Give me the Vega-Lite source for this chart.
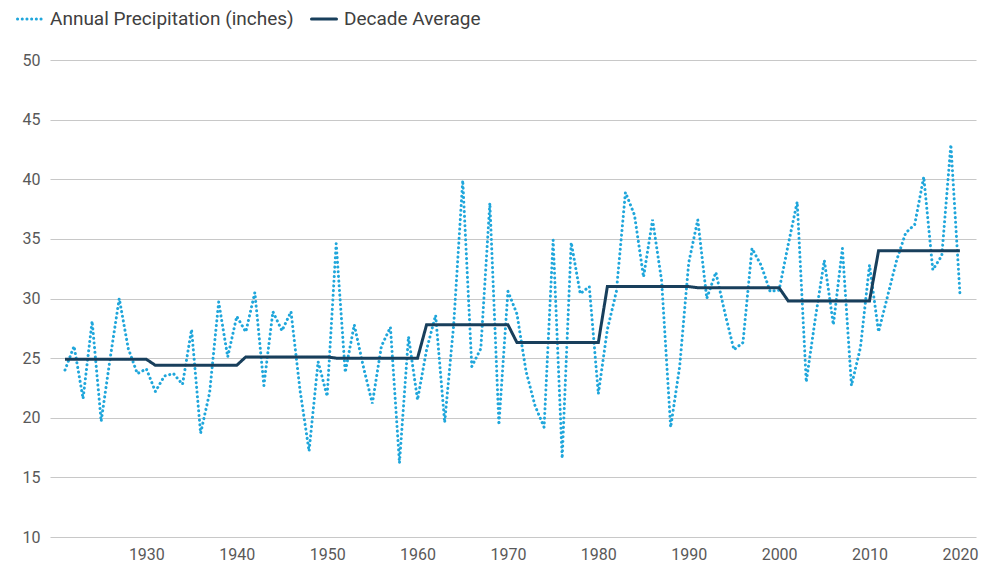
{
  "$schema": "https://vega.github.io/schema/vega-lite/v6.json",
  "width": 926,
  "height": 477,
  "autosize": {"type": "none"},
  "padding": {"left": 50, "top": 60, "right": 22, "bottom": 29},
  "background": "white",
  "config": {
    "font": "Roboto",
    "view": {"stroke": null}
  },
  "data": {
    "values": [
      {"year": 1921, "annual": 24.0, "decade": 24.9},
      {"year": 1922, "annual": 26.0, "decade": 24.9},
      {"year": 1923, "annual": 21.6, "decade": 24.9},
      {"year": 1924, "annual": 28.1, "decade": 24.9},
      {"year": 1925, "annual": 19.7, "decade": 24.9},
      {"year": 1926, "annual": 25.0, "decade": 24.9},
      {"year": 1927, "annual": 30.0, "decade": 24.9},
      {"year": 1928, "annual": 25.8, "decade": 24.9},
      {"year": 1929, "annual": 23.7, "decade": 24.9},
      {"year": 1930, "annual": 24.1, "decade": 24.9},
      {"year": 1931, "annual": 22.2, "decade": 24.4},
      {"year": 1932, "annual": 23.5, "decade": 24.4},
      {"year": 1933, "annual": 23.7, "decade": 24.4},
      {"year": 1934, "annual": 22.8, "decade": 24.4},
      {"year": 1935, "annual": 27.4, "decade": 24.4},
      {"year": 1936, "annual": 18.7, "decade": 24.4},
      {"year": 1937, "annual": 22.1, "decade": 24.4},
      {"year": 1938, "annual": 29.7, "decade": 24.4},
      {"year": 1939, "annual": 25.1, "decade": 24.4},
      {"year": 1940, "annual": 28.5, "decade": 24.4},
      {"year": 1941, "annual": 27.2, "decade": 25.1},
      {"year": 1942, "annual": 30.5, "decade": 25.1},
      {"year": 1943, "annual": 22.7, "decade": 25.1},
      {"year": 1944, "annual": 28.9, "decade": 25.1},
      {"year": 1945, "annual": 27.3, "decade": 25.1},
      {"year": 1946, "annual": 28.9, "decade": 25.1},
      {"year": 1947, "annual": 22.3, "decade": 25.1},
      {"year": 1948, "annual": 17.2, "decade": 25.1},
      {"year": 1949, "annual": 24.7, "decade": 25.1},
      {"year": 1950, "annual": 21.8, "decade": 25.1},
      {"year": 1951, "annual": 34.6, "decade": 25.0},
      {"year": 1952, "annual": 23.8, "decade": 25.0},
      {"year": 1953, "annual": 27.8, "decade": 25.0},
      {"year": 1954, "annual": 24.3, "decade": 25.0},
      {"year": 1955, "annual": 21.2, "decade": 25.0},
      {"year": 1956, "annual": 26.0, "decade": 25.0},
      {"year": 1957, "annual": 27.6, "decade": 25.0},
      {"year": 1958, "annual": 16.2, "decade": 25.0},
      {"year": 1959, "annual": 26.8, "decade": 25.0},
      {"year": 1960, "annual": 21.5, "decade": 25.0},
      {"year": 1961, "annual": 25.7, "decade": 27.8},
      {"year": 1962, "annual": 28.6, "decade": 27.8},
      {"year": 1963, "annual": 19.6, "decade": 27.8},
      {"year": 1964, "annual": 27.8, "decade": 27.8},
      {"year": 1965, "annual": 39.9, "decade": 27.8},
      {"year": 1966, "annual": 24.3, "decade": 27.8},
      {"year": 1967, "annual": 25.8, "decade": 27.8},
      {"year": 1968, "annual": 38.0, "decade": 27.8},
      {"year": 1969, "annual": 19.4, "decade": 27.8},
      {"year": 1970, "annual": 30.6, "decade": 27.8},
      {"year": 1971, "annual": 28.7, "decade": 26.3},
      {"year": 1972, "annual": 23.9, "decade": 26.3},
      {"year": 1973, "annual": 21.0, "decade": 26.3},
      {"year": 1974, "annual": 19.2, "decade": 26.3},
      {"year": 1975, "annual": 34.9, "decade": 26.3},
      {"year": 1976, "annual": 16.6, "decade": 26.3},
      {"year": 1977, "annual": 34.7, "decade": 26.3},
      {"year": 1978, "annual": 30.4, "decade": 26.3},
      {"year": 1979, "annual": 31.0, "decade": 26.3},
      {"year": 1980, "annual": 22.0, "decade": 26.3},
      {"year": 1981, "annual": 27.4, "decade": 31.0},
      {"year": 1982, "annual": 30.6, "decade": 31.0},
      {"year": 1983, "annual": 38.9, "decade": 31.0},
      {"year": 1984, "annual": 37.0, "decade": 31.0},
      {"year": 1985, "annual": 31.8, "decade": 31.0},
      {"year": 1986, "annual": 36.6, "decade": 31.0},
      {"year": 1987, "annual": 31.5, "decade": 31.0},
      {"year": 1988, "annual": 19.2, "decade": 31.0},
      {"year": 1989, "annual": 24.3, "decade": 31.0},
      {"year": 1990, "annual": 33.0, "decade": 31.0},
      {"year": 1991, "annual": 36.6, "decade": 30.9},
      {"year": 1992, "annual": 30.0, "decade": 30.9},
      {"year": 1993, "annual": 32.2, "decade": 30.9},
      {"year": 1994, "annual": 28.8, "decade": 30.9},
      {"year": 1995, "annual": 25.7, "decade": 30.9},
      {"year": 1996, "annual": 26.3, "decade": 30.9},
      {"year": 1997, "annual": 34.2, "decade": 30.9},
      {"year": 1998, "annual": 32.8, "decade": 30.9},
      {"year": 1999, "annual": 30.6, "decade": 30.9},
      {"year": 2000, "annual": 30.7, "decade": 30.9},
      {"year": 2001, "annual": 34.5, "decade": 29.8},
      {"year": 2002, "annual": 38.1, "decade": 29.8},
      {"year": 2003, "annual": 23.0, "decade": 29.8},
      {"year": 2004, "annual": 28.3, "decade": 29.8},
      {"year": 2005, "annual": 33.2, "decade": 29.8},
      {"year": 2006, "annual": 27.8, "decade": 29.8},
      {"year": 2007, "annual": 34.2, "decade": 29.8},
      {"year": 2008, "annual": 22.7, "decade": 29.8},
      {"year": 2009, "annual": 25.9, "decade": 29.8},
      {"year": 2010, "annual": 32.8, "decade": 29.8},
      {"year": 2011, "annual": 27.2, "decade": 34.0},
      {"year": 2012, "annual": 30.2, "decade": 34.0},
      {"year": 2013, "annual": 33.2, "decade": 34.0},
      {"year": 2014, "annual": 35.5, "decade": 34.0},
      {"year": 2015, "annual": 36.2, "decade": 34.0},
      {"year": 2016, "annual": 40.2, "decade": 34.0},
      {"year": 2017, "annual": 32.4, "decade": 34.0},
      {"year": 2018, "annual": 33.6, "decade": 34.0},
      {"year": 2019, "annual": 42.9, "decade": 34.0},
      {"year": 2020, "annual": 30.4, "decade": 34.0}
    ]
  },
  "encoding": {
    "x": {
      "field": "year",
      "type": "quantitative",
      "scale": {"domain": [1919.34, 2021.78], "nice": false, "zero": false},
      "axis": {
        "title": null,
        "values": [1930, 1940, 1950, 1960, 1970, 1980, 1990, 2000, 2010, 2020],
        "format": "d",
        "grid": false,
        "domain": false,
        "ticks": false,
        "tickSize": 0,
        "labelPadding": 9,
        "labelFontSize": 16,
        "labelColor": "#595959",
        "labelFont": "Roboto"
      }
    }
  },
  "layer": [
    {
      "mark": {"type": "line", "strokeWidth": 3, "strokeCap": "round"},
      "encoding": {
        "y": {
          "field": "annual",
          "type": "quantitative",
          "scale": {"domain": [10, 50], "nice": false, "zero": false},
          "axis": {
            "title": null,
            "values": [10, 15, 20, 25, 30, 35, 40, 45, 50],
            "grid": true,
            "gridColor": "#C8C8C8",
            "gridWidth": 1.2,
            "domain": false,
            "ticks": false,
            "tickSize": 0,
            "labelPadding": 10,
            "labelFontSize": 16,
            "labelColor": "#595959",
            "labelFont": "Roboto"
          }
        },
        "color": {
          "datum": "Annual Precipitation (inches)",
          "scale": {
            "domain": ["Annual Precipitation (inches)", "Decade Average"],
            "range": ["#1FA6DB", "#183F5C"]
          },
          "legend": {
            "title": null,
            "orient": "none",
            "direction": "horizontal",
            "legendX": -34,
            "legendY": -55,
            "symbolType": "stroke",
            "symbolSize": 625,
            "symbolStrokeWidth": 3,
            "labelFontSize": 19,
            "labelLimit": 400,
            "labelColor": "#404040",
            "labelFont": "Roboto",
            "columnPadding": 11,
            "labelOffset": 6,
            "encode": {
              "symbols": {"update": {"strokeCap": {"value": "round"}}}
            }
          }
        },
        "strokeDash": {
          "datum": "Annual Precipitation (inches)",
          "scale": {
            "domain": ["Annual Precipitation (inches)", "Decade Average"],
            "range": [[0.1, 4.6], [1, 0]]
          },
          "legend": null
        }
      }
    },
    {
      "mark": {"type": "line", "strokeWidth": 3},
      "encoding": {
        "y": {"field": "decade", "type": "quantitative"},
        "color": {"datum": "Decade Average"},
        "strokeDash": {"datum": "Decade Average"}
      }
    }
  ]
}
